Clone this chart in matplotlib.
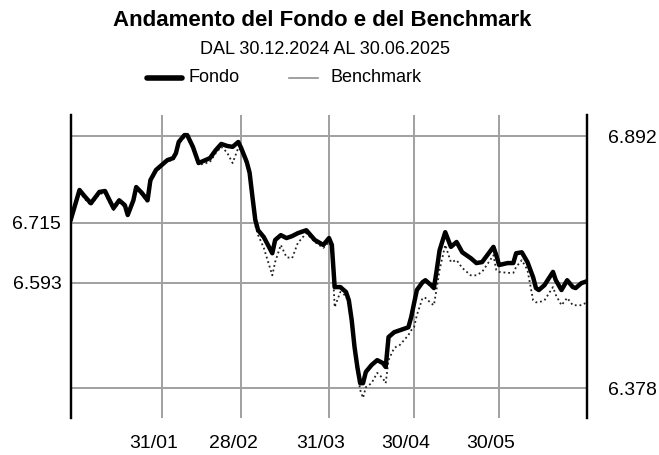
import numpy as np
import pandas as pd
import matplotlib
matplotlib.use("Agg")
import matplotlib.pyplot as plt
import matplotlib.dates as mdates
import matplotlib.transforms as mtransforms
from matplotlib.lines import Line2D

plt.rcParams['font.family'] = ['Liberation Sans', 'DejaVu Sans']

title = "Andamento del Fondo e del Benchmark"
subtitle = "DAL 30.12.2024 AL 30.06.2025"

dates = ["2024-12-30", "2025-01-02", "2025-01-04", "2025-01-06", "2025-01-09",
         "2025-01-11", "2025-01-12", "2025-01-14", "2025-01-16", "2025-01-18",
         "2025-01-19", "2025-01-21", "2025-01-22", "2025-01-24", "2025-01-26",
         "2025-01-27", "2025-01-29", "2025-01-31", "2025-02-02", "2025-02-04",
         "2025-02-05", "2025-02-06", "2025-02-08", "2025-02-09", "2025-02-11",
         "2025-02-13", "2025-02-17", "2025-02-19", "2025-02-21", "2025-02-23",
         "2025-02-25", "2025-02-27", "2025-02-28", "2025-03-02", "2025-03-03",
         "2025-03-04", "2025-03-05", "2025-03-06", "2025-03-08", "2025-03-11",
         "2025-03-12", "2025-03-14", "2025-03-16", "2025-03-18", "2025-03-20",
         "2025-03-23", "2025-03-26", "2025-03-29", "2025-03-31", "2025-04-01",
         "2025-04-02", "2025-04-04", "2025-04-06", "2025-04-07", "2025-04-08",
         "2025-04-09", "2025-04-10", "2025-04-11", "2025-04-12", "2025-04-13",
         "2025-04-15", "2025-04-17", "2025-04-19", "2025-04-20", "2025-04-21",
         "2025-04-23", "2025-04-25", "2025-04-28", "2025-04-29", "2025-04-30",
         "2025-05-01", "2025-05-03", "2025-05-04", "2025-05-06", "2025-05-07",
         "2025-05-08", "2025-05-09", "2025-05-11", "2025-05-13", "2025-05-15",
         "2025-05-17", "2025-05-20", "2025-05-22", "2025-05-24", "2025-05-28",
         "2025-05-29", "2025-05-30", "2025-06-02", "2025-06-04", "2025-06-05",
         "2025-06-07", "2025-06-09", "2025-06-11", "2025-06-12", "2025-06-13",
         "2025-06-15", "2025-06-18", "2025-06-19", "2025-06-21", "2025-06-23",
         "2025-06-25", "2025-06-26", "2025-06-28", "2025-06-30"]

fondo = [6.723, 6.782, 6.768, 6.755, 6.778, 6.780, 6.768, 6.745, 6.761, 6.751,
         6.731, 6.761, 6.788, 6.776, 6.761, 6.802, 6.823, 6.833, 6.843, 6.847,
         6.857, 6.880, 6.894, 6.894, 6.870, 6.837, 6.847, 6.863, 6.876, 6.872,
         6.870, 6.880, 6.868, 6.839, 6.817, 6.768, 6.721, 6.700, 6.686, 6.653,
         6.680, 6.690, 6.684, 6.688, 6.694, 6.700, 6.680, 6.670, 6.684, 6.670,
         6.584, 6.584, 6.574, 6.557, 6.517, 6.462, 6.421, 6.388, 6.388, 6.411,
         6.425, 6.435, 6.429, 6.421, 6.482, 6.492, 6.496, 6.502, 6.523, 6.551,
         6.578, 6.594, 6.598, 6.588, 6.582, 6.619, 6.659, 6.696, 6.666, 6.676,
         6.655, 6.643, 6.633, 6.635, 6.666, 6.649, 6.629, 6.633, 6.633, 6.653,
         6.655, 6.635, 6.604, 6.582, 6.578, 6.588, 6.615, 6.598, 6.578, 6.598,
         6.584, 6.582, 6.592, 6.596]

benchmark = [6.723, 6.778, 6.763, 6.751, 6.774, 6.776, 6.763, 6.741, 6.757, 6.747,
             6.729, 6.757, 6.784, 6.772, 6.757, 6.798, 6.819, 6.831, 6.841, 6.843,
             6.853, 6.876, 6.890, 6.890, 6.865, 6.833, 6.839, 6.857, 6.870, 6.859,
             6.837, 6.868, 6.863, 6.833, 6.810, 6.761, 6.710, 6.690, 6.664, 6.608,
             6.635, 6.670, 6.645, 6.643, 6.674, 6.694, 6.676, 6.664, 6.676, 6.659,
             6.543, 6.574, 6.566, 6.547, 6.506, 6.451, 6.411, 6.374, 6.358, 6.380,
             6.388, 6.409, 6.398, 6.388, 6.435, 6.460, 6.466, 6.486, 6.496, 6.502,
             6.527, 6.562, 6.562, 6.551, 6.547, 6.582, 6.619, 6.670, 6.635, 6.639,
             6.623, 6.608, 6.608, 6.615, 6.649, 6.619, 6.615, 6.613, 6.613, 6.625,
             6.639, 6.619, 6.557, 6.553, 6.553, 6.557, 6.584, 6.568, 6.547, 6.562,
             6.547, 6.547, 6.547, 6.553]

grid_dates = ["2025-01-31", "2025-02-28", "2025-03-31", "2025-04-30", "2025-05-30"]
grid_labels = ["31/01", "28/02", "31/03", "30/04", "30/05"]
left_ticks = [6.593, 6.715]
right_ticks = [6.378, 6.892]

x = pd.to_datetime(dates)

fig = plt.figure(figsize=(6.59, 4.55), dpi=100)
ax = fig.add_axes([71/659, 1 - 418/455, 516/659, 303/455])

ax.plot(x, benchmark, color='#222222', lw=1.3, ls=(0, (1, 1.6)), zorder=3)
ax.plot(x, fondo, color='black', lw=3.2, solid_joinstyle='round', zorder=4)

ax.set_xlim(pd.Timestamp("2024-12-30"), pd.Timestamp("2025-06-30"))
ax.set_ylim(6.317, 6.935)

for v in left_ticks + right_ticks:
    ax.axhline(v, color='#a0a0a0', lw=1.4, zorder=1)

ax.set_xticks(pd.to_datetime(grid_dates))
ax.set_xticklabels(grid_labels, fontsize=14)
ax.grid(axis='x', color='#a0a0a0', lw=1.4, zorder=1)
ax.tick_params(axis='x', length=0, pad=12)
offset = mtransforms.ScaledTranslation(-8/100, 0, fig.dpi_scale_trans)
for lab in ax.get_xticklabels():
    lab.set_transform(lab.get_transform() + offset)

ax.set_yticks(left_ticks)
ax.set_yticklabels([f"{v:.3f}" for v in left_ticks], fontsize=14)
ax.tick_params(axis='y', length=0, pad=7)

ax2 = ax.twinx()
ax2.set_ylim(ax.get_ylim())
ax2.set_yticks(right_ticks)
ax2.set_yticklabels([f"{v:.3f}" for v in right_ticks], fontsize=14)
ax2.tick_params(axis='y', length=0, pad=15)

for a in (ax, ax2):
    a.spines['top'].set_visible(False)
    a.spines['bottom'].set_visible(False)
    a.spines['left'].set_linewidth(1.6)
    a.spines['right'].set_linewidth(1.6)

fig.text(322/659, 1 - 20/455, title, ha='center', va='center',
         fontsize=16, fontweight='bold')
fig.text(325/659, 1 - 49/455, subtitle, ha='center', va='center', fontsize=13)

fig.add_artist(Line2D([147/659, 182/659], [1 - 78/455, 1 - 78/455],
                      color='black', lw=4, solid_capstyle='round'))
fig.text(189/659, 1 - 77/455, "Fondo", ha='left', va='center', fontsize=13)
fig.add_artist(Line2D([289/659, 318/659], [1 - 78/455, 1 - 78/455],
                      color='#909090', lw=1.2))
fig.text(330/659, 1 - 77/455, "Benchmark", ha='left', va='center', fontsize=13)

fig.savefig("out.png", dpi=100)
